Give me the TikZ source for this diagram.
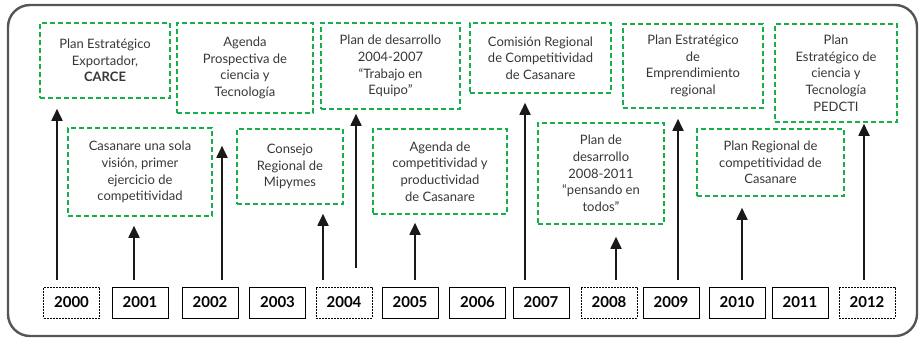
\documentclass[tikz,border=0pt]{standalone}
\usepackage{fontspec}
\setmainfont{Lato}
\usetikzlibrary{arrows.meta}
\definecolor{verde}{RGB}{20,176,75}
\definecolor{texto}{RGB}{55,55,55}
\definecolor{marco}{RGB}{85,85,85}
\begin{document}
\begin{tikzpicture}[x=1pt,y=-1pt,
  hito/.style={draw=verde,dash pattern=on 5pt off 3pt,line width=1.6pt,
    align=center,text=texto,inner sep=2pt,
    font=\fontsize{13}{16.7}\selectfont},
  anio/.style={draw=black,line width=0.8pt,minimum width=56pt,minimum height=31pt,
    inner sep=0pt,font=\fontsize{15}{17}\selectfont\bfseries},
  anioraya/.style={anio,dash pattern=on 2pt off 1pt},
  flecha/.style={-{Triangle[width=11pt,length=12pt]},line width=1.8pt,
    draw=black!90,shorten <=7pt}]
  \useasboundingbox (0,0) rectangle (920,339);
  \draw[marco,line width=2.4pt,rounded corners=22pt] (8,5) rectangle (917,336);
  % hitos de arriba
  \node[hito,minimum width=130pt,minimum height=75pt] (pee) at (105,60.5)
    {Plan Estratégico\\Exportador,\\\textbf{CARCE}};
  \node[hito,minimum width=136pt,minimum height=90pt] (apct) at (245,68)
    {Agenda\\Prospectiva de\\ciencia y\\Tecnología};
  \node[hito,minimum width=139pt,minimum height=86pt] (pd04) at (390.5,66)
    {Plan de desarrollo\\2004-2007\\“Trabajo en\\Equipo”};
  \node[hito,minimum width=141pt,minimum height=70pt] (crc) at (540.5,58)
    {Comisión Regional\\de Competitividad\\de Casanare};
  \node[hito,minimum width=140pt,minimum height=84pt] (peer) at (693,66)
    {Plan Estratégico\\de\\Emprendimiento\\regional};
  \node[hito,minimum width=122pt,minimum height=98pt] (pedcti) at (836,73)
    {Plan\\Estratégico de\\ciencia y\\Tecnología\\PEDCTI};
  % hitos de abajo
  \node[hito,minimum width=144pt,minimum height=88pt] (csv) at (140,172)
    {Casanare una sola\\visión, primer\\ejercicio de\\competitividad};
  \node[hito,minimum width=106pt,minimum height=75pt] (crm) at (290,166.5)
    {Consejo\\Regional de\\Mipymes};
  \node[hito,minimum width=134pt,minimum height=85pt] (acp) at (440,171.5)
    {Agenda de\\competitividad y\\productividad\\de Casanare};
  \node[hito,minimum width=126pt,minimum height=101pt] (pd08) at (601,173.5)
    {Plan de\\desarrollo\\2008-2011\\“pensando en\\todos”};
  \node[hito,minimum width=147pt,minimum height=67pt] (prc) at (770.5,162.5)
    {Plan Regional de\\competitividad de\\Casanare};
  % linea de tiempo
  \foreach \a/\x/\st in {2000/71.5/anioraya,2001/140/anio,2002/210/anio,
      2003/277.5/anio,2004/344/anioraya,2005/410/anio,2006/477.5/anio,
      2007/541/anio,2008/609/anioraya,2009/671/anio,2010/737/anio,
      2011/800/anio,2012/867/anioraya}
    \node[\st] (y\a) at (\x,302.5) {\a};
  % flechas
  \foreach \a/\dst/\ax/\gap in {2000/pee/57/10,2001/csv/134/9,2002/apct/222/32,
      2003/crm/323/9,2005/acp/415/8,2007/crc/525/9,2008/pd08/616/12,
      2009/peer/678/10,2010/prc/742/11,2012/pedcti/864/1}
    \draw[flecha,shorten >=\gap pt] (y\a.north -| \ax,0) -- (\dst.south -| \ax,0);
  \draw[flecha,shorten <=19pt,shorten >=4pt] (y2004.north -| 356,0) -- (pd04.south -| 356,0);
\end{tikzpicture}
\end{document}
